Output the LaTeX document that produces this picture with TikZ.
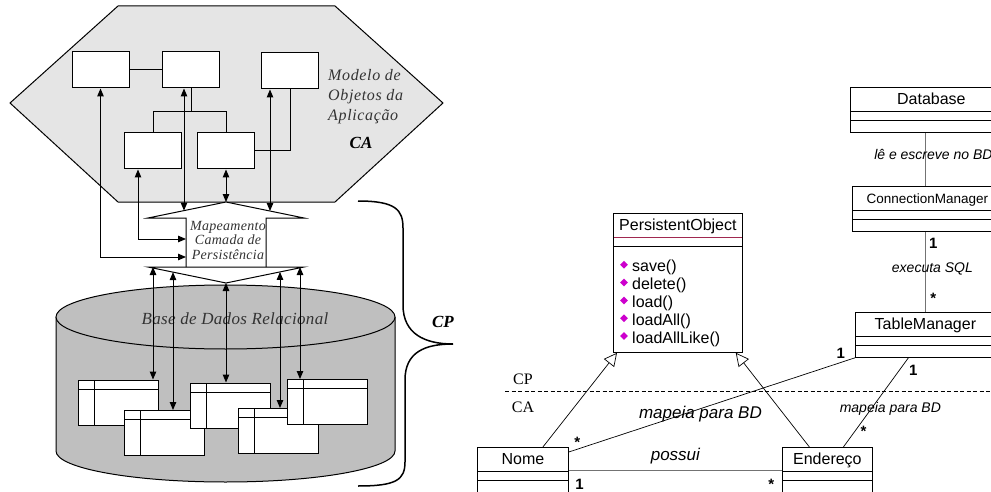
\documentclass[tikz,border=0pt]{standalone}
\usepackage{fontspec}
\setmainfont{Liberation Serif}
\setsansfont{Liberation Sans}
\newfontfamily\wideserif{Liberation Serif}[LetterSpace=4]
\newfontfamily\midserif{Liberation Serif}[LetterSpace=2]
\usepackage{tikz}
\usetikzlibrary{arrows.meta}

\definecolor{hexfill}{gray}{0.9}
\definecolor{dbfill}{gray}{0.75}
\definecolor{labelgray}{gray}{0.2}
\definecolor{poline}{RGB}{160,40,80}
\definecolor{methodpink}{RGB}{205,0,205}

\begin{document}
\begin{tikzpicture}[
    x=1pt, y=-1pt,
    every node/.style={inner sep=0pt},
    objbox/.style={draw, fill=white, line width=1pt, minimum width=57pt, minimum height=36pt},
    dbtable/.style={draw, fill=white, line width=1pt, minimum width=80pt, minimum height=45pt,
        path picture={
            \draw[line width=1pt] ([yshift=-9pt]path picture bounding box.north west) -- ([yshift=-9pt]path picture bounding box.north east);
            \draw[line width=1pt] ([xshift=16pt]path picture bounding box.north west) -- ([xshift=16pt]path picture bounding box.south west);
        }},
    link/.style={line width=1pt},
    dblarrow/.style={line width=1pt, {Triangle[length=8pt,width=6.5pt]}-{Triangle[length=8pt,width=6.5pt]}},
    hextext/.style={font=\fontsize{16}{20}\selectfont\wideserif\itshape, text=labelgray, align=left},
    maptext/.style={font=\fontsize{14}{14.5}\selectfont\midserif\itshape, text=labelgray, align=center},
    dbtext/.style={font=\fontsize{17}{19}\selectfont\midserif\itshape, text=labelgray},
    layerlabel/.style={font=\fontsize{17}{20}\selectfont\bfseries\itshape},
    sidelabel/.style={font=\fontsize{16}{18}\selectfont},
    umlclass/.style={draw, fill=white, line width=0.8pt, font=\sffamily\fontsize{16}{18}\selectfont,
        text height=17pt, text depth=28pt, inner ysep=0pt,
        path picture={
            \draw[line width=0.8pt, draw=#1] ([yshift=-24pt]path picture bounding box.north west) -- ([yshift=-24pt]path picture bounding box.north east);
            \draw[line width=0.8pt] ([yshift=-33pt]path picture bounding box.north west) -- ([yshift=-33pt]path picture bounding box.north east);
        }},
    umlclass/.default=black,
    method/.style={font=\sffamily\fontsize{16}{18}\selectfont, anchor=west},
    mbullet/.style={fill=methodpink, minimum size=5.5pt, rotate=45},
    assoc/.style={line width=0.7pt},
    graylink/.style={line width=0.8pt, draw=black!55},
    generalize/.style={line width=0.7pt, -{Triangle[open, length=13pt, width=13pt]}},
    mult/.style={font=\sffamily\bfseries\fontsize{15}{17}\selectfont},
    biglabel/.style={font=\sffamily\itshape\fontsize{17}{19}\selectfont},
    smalllabel/.style={font=\sffamily\itshape\fontsize{14}{16}\selectfont},
    sepline/.style={line width=0.8pt, dash pattern=on 4pt off 2.5pt}
]
\useasboundingbox (0,0) rectangle (991,492);

% application objects (CA)
\filldraw[fill=hexfill, line width=1pt] (118,6) -- (335,6) -- (443,103) -- (335,202) -- (118,202) -- (10,103) -- cycle;
\node[objbox] (oa) at (100.5,70) {};
\node[objbox] (ob) at (191,70) {};
\node[objbox] (oc) at (290,71) {};
\node[objbox] (od) at (153,151) {};
\node[objbox] (oe) at (226,151) {};
\draw[link] (oa) -- (ob);
\draw[link] (ob.south) -- ++(0,23) coordinate (fork);
\draw[link] (od.north) |- (fork) -| (oe.north);
\draw[link] (oe.east) -| (oc.south);
\node[hextext, anchor=west] (model) at (328,97) {Modelo de\\Objetos da\\Aplicação};
\node[layerlabel] (ca) at (361,143) {CA};

% mapping layer
\coordinate (mapTop) at (226,202);
\coordinate (mapBot) at (226,283);
\filldraw[fill=white, line width=1pt] (186,267) -- (186,218) -- (148,218) -- (mapTop) -- (304,218) -- (266,218) -- (266,267);
\draw[line width=1pt] (148,267) -- (304,267) -- (mapBot) -- cycle;
\node[maptext] (map) at (228,240) {Mapeamento\\Camada de\\Persistência};

\coordinate (inA) at (186,257);
\coordinate (inD) at (186,239);
\coordinate (mapB) at (184,210.6);
\coordinate (mapC) at (270,211);
\draw[dblarrow] (oa.south) |- (inA);
\draw[dblarrow] ([xshift=-15pt]od.south) |- (inD);
\draw[dblarrow] ([xshift=-7pt]ob.south) -- (mapB);
\draw[dblarrow] (oe.south) -- (mapTop);
\draw[dblarrow] ([xshift=-20pt]oc.south) -- (mapC);

% relational database
\fill[dbfill] (56,317) -- (56,451) arc[start angle=180, end angle=360, x radius=169.5pt, y radius=31pt] -- (395,317) -- cycle;
\draw[line width=1pt] (56,317) -- (56,451) arc[start angle=180, end angle=360, x radius=169.5pt, y radius=31pt] -- (395,317);
\filldraw[fill=dbfill, line width=1pt] (225.5,317) ellipse [x radius=169.5pt, y radius=32pt];
\node[dbtext] (rdb) at (235,319) {Base de Dados Relacional};

\node[dbtable] (t1) at (118,402.5) {};
\node[dbtable] (t2) at (164.5,433) {};
\node[dbtable] (t3) at (230.5,405.5) {};
\node[dbtable] (t4) at (278,431) {};
\node[dbtable] (t5) at (327,402) {};

\coordinate (mb1) at (153,267);
\coordinate (mb2) at (173,272.1);
\coordinate (mb4) at (280,271.9);
\coordinate (mb5) at (300,267);
\foreach \c/\t in {mb1/t1,mb2/t2,mapBot/t3,mb4/t4,mb5/t5}
    \draw[dblarrow] (\c) -- (\c |- \t.north);

% persistence layer brace
\draw[line width=1.5pt] (358,201) .. controls (396,201) and (403,210) .. (403,228) -- (403,305)
    .. controls (403,334) and (425,344) .. (453,344) .. controls (425,344) and (405,352) .. (405,380)
    -- (405,462) .. controls (405,480) and (396,486) .. (358,486);
\node[layerlabel] (cp) at (443,322) {CP};

% class diagram
\coordinate (sepL) at (505,391);
\coordinate (sepR) at (991,391);
\draw[sepline] (sepL) -- (sepR);
\node[sidelabel] (cpside) at (523,379) {CP};
\node[sidelabel] (caside) at (523,407) {CA};

\node[umlclass, anchor=north west, minimum width=162pt] (db) at (850,87) {Database};
\node[umlclass, anchor=north west, minimum width=150pt, font=\sffamily\fontsize{13.5}{16}\selectfont] (cm) at (852,186) {ConnectionManager};
\node[umlclass, anchor=north west, minimum width=140pt] (tm) at (855,312) {TableManager};
\node[umlclass=poline, anchor=north west, minimum width=129pt, text depth=122pt] (po) at (613,213) {PersistentObject};
\node[umlclass, anchor=north west, minimum width=91pt] (nome) at (477,447) {Nome};
\node[umlclass, anchor=north west, minimum width=90pt] (ender) at (782,447) {Endereço};

\foreach \m [count=\i] in {save(),delete(),load(),loadAll(),loadAllLike()} {
    \node[mbullet] (b\i) at (624,247+17.8*\i) {};
    \node[method] (m\i) at (632,250+17.8*\i) {\m};
}

\draw[graylink] ([xshift=-6pt]db.south) -- ([xshift=-6pt]db.south |- cm.north)
    node[smalllabel, midway, xshift=8pt, yshift=5pt] {lê e escreve no BD};
\draw[graylink] ([xshift=-6pt]db.south |- cm.south) -- (tm.north)
    node[mult, pos=0.15, xshift=8pt] {1}
    node[smalllabel, midway, xshift=7pt, yshift=3pt] {executa SQL}
    node[mult, pos=0.83, xshift=8pt] {*};
\draw[assoc] ([yshift=-5pt]nome.north east) -- (tm.south west)
    node[mult, pos=0.03, yshift=7pt] {*}
    node[biglabel, pos=0.46, yshift=-5pt] {mapeia para BD}
    node[mult, pos=0.95, yshift=9pt] {1};
\draw[graylink] (nome.east) -- (ender.west)
    node[biglabel, midway, yshift=14pt] {possui}
    node[mult, pos=0.05, yshift=-14pt] {1}
    node[mult, pos=0.95, yshift=-14pt] {*};
\draw[assoc] ([xshift=-17pt]tm.south) -- ([xshift=16pt]ender.north)
    node[mult, pos=0.14, xshift=14pt] {1}
    node[smalllabel, pos=0.57, xshift=19pt] {mapeia para BD}
    node[mult, pos=0.83, xshift=9pt] {*};
\draw[generalize] ([xshift=20pt]nome.north) -- ([xshift=4pt]po.south west);
\draw[generalize] ([xshift=-18pt]ender.north) -- ([xshift=-7pt]po.south east);
\end{tikzpicture}
\end{document}
